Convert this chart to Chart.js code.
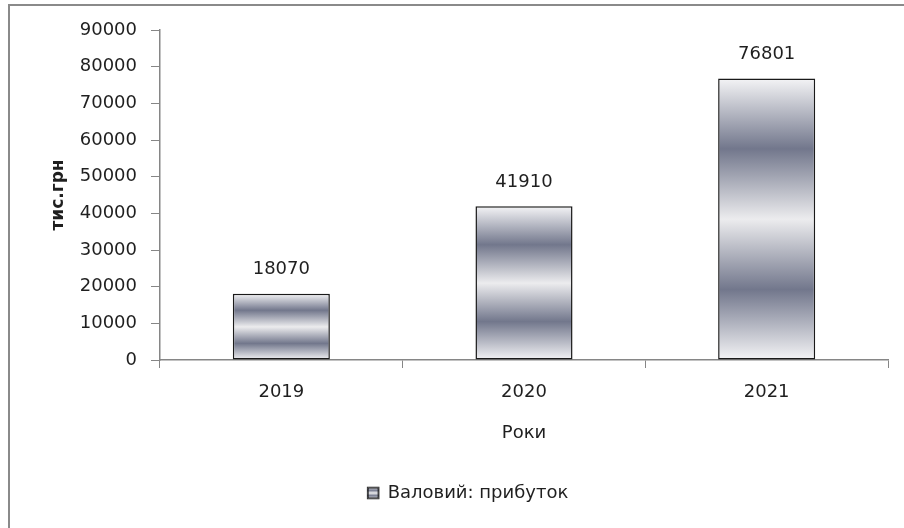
<!DOCTYPE html>
<html>
<head>
<meta charset="utf-8">
<script src="https://cdn.jsdelivr.net/npm/chart.js@4/dist/chart.umd.min.js"></script>
<style>
  html, body { margin: 0; padding: 0; background: #fff; }
  #wrap { width: 904px; height: 528px; }
</style>
</head>
<body>
<div id="wrap"><canvas id="profitChart" width="904" height="528"></canvas></div>
<script>
// Валовий прибуток по роках, тис.грн
const years = ['2019', '2020', '2021'];
const grossProfit = [18070, 41910, 76801];
const yTicks = [0, 10000, 20000, 30000, 40000, 50000, 60000, 70000, 80000, 90000];

const seriesName = 'Валовий: прибуток';
const font = '"DejaVu Sans", Verdana, sans-serif';
const textColor = '#1f1f1f';
const axisColor = '#868686';

// striped fill: light - dark - light - dark - light over the bar height
function stripeFill(ctx, top, bottom) {
  const g = ctx.createLinearGradient(0, top, 0, bottom);
  g.addColorStop(0, '#f4f4f6');
  g.addColorStop(0.25, '#72778c');
  g.addColorStop(0.5, '#ececee');
  g.addColorStop(0.75, '#72778c');
  g.addColorStop(1, '#f4f4f6');
  return g;
}

function barFill(context) {
  const chart = context.chart;
  if (!chart.chartArea || context.type !== 'data') return '#a3a7b6';
  const y = chart.scales.y;
  return stripeFill(chart.ctx, y.getPixelForValue(context.raw), y.getPixelForValue(0));
}

// frame around the whole chart
const framePlugin = {
  id: 'frame',
  beforeDraw(chart) {
    const c = chart.ctx;
    c.save();
    c.fillStyle = '#fff';
    c.fillRect(0, 0, chart.width, chart.height);
    c.strokeStyle = '#8a8a8a';
    c.lineWidth = 2;
    c.beginPath();
    c.moveTo(9, chart.height);
    c.lineTo(9, 5);
    c.lineTo(chart.width, 5);
    c.stroke();
    c.restore();
  }
};

// value above each bar
const valueLabels = {
  id: 'valueLabels',
  afterDatasetsDraw(chart) {
    const c = chart.ctx;
    const meta = chart.getDatasetMeta(0);
    c.save();
    c.font = '18px ' + font;
    c.fillStyle = textColor;
    c.textAlign = 'center';
    c.textBaseline = 'middle';
    meta.data.forEach((bar, i) => {
      c.fillText(String(grossProfit[i]), bar.x, bar.y - 24);
    });
    c.restore();
  }
};

// repaint the legend swatch with the same stripes as the bars
const legendSwatch = {
  id: 'legendSwatch',
  afterDraw(chart) {
    const box = chart.legend && chart.legend.legendHitBoxes[0];
    if (!box) return;
    const c = chart.ctx;
    const size = 11;
    const x = box.left;
    const y = box.top + (box.height - size) / 2;
    c.save();
    c.fillStyle = stripeFill(c, y, y + size);
    c.fillRect(x, y, size, size);
    c.strokeStyle = '#1a1a1a';
    c.lineWidth = 1;
    c.strokeRect(x + 0.5, y + 0.5, size - 1, size - 1);
    c.restore();
  }
};

new Chart(document.getElementById('profitChart'), {
  type: 'bar',
  data: {
    labels: years,
    datasets: [{
      label: seriesName,
      data: grossProfit,
      backgroundColor: barFill,
      borderColor: '#1a1a1a',
      borderWidth: 1.5,
      borderSkipped: false,
      categoryPercentage: 1,
      barPercentage: 0.4
    }]
  },
  options: {
    responsive: false,
    animation: false,
    layout: { padding: { left: 48, top: 30, right: 16, bottom: 16 } },
    plugins: {
      tooltip: { enabled: false },
      legend: {
        position: 'bottom',
        labels: {
          boxWidth: 11,
          boxHeight: 11,
          padding: 10,
          color: textColor,
          font: { family: font, size: 18 }
        }
      }
    },
    scales: {
      x: {
        afterFit(scale) { scale.height = 114; },
        grid: { offset: true, drawOnChartArea: false, drawTicks: true, tickLength: 8, color: axisColor },
        border: { display: true, color: axisColor, width: 1.5 },
        ticks: { color: textColor, padding: 14, font: { family: font, size: 18 } },
        title: {
          display: true,
          text: 'Роки',
          color: textColor,
          padding: { top: 0, bottom: 30 },
          font: { family: font, size: 18 }
        }
      },
      y: {
        min: 0,
        max: 90000,
        afterFit(scale) { scale.width = 112; },
        afterBuildTicks(scale) { scale.ticks = yTicks.map(v => ({ value: v })); },
        grid: { drawOnChartArea: false, drawTicks: true, tickLength: 9, color: axisColor },
        border: { display: true, color: axisColor, width: 1.5 },
        ticks: {
          color: textColor,
          padding: 14,
          font: { family: font, size: 18 },
          callback: v => String(v)
        },
        title: {
          display: true,
          text: 'тис.грн',
          color: textColor,
          padding: { top: 0, bottom: 0 },
          font: { family: font, size: 17, weight: 'bold' }
        }
      }
    }
  },
  plugins: [framePlugin, valueLabels, legendSwatch]
});
</script>
</body>
</html>
